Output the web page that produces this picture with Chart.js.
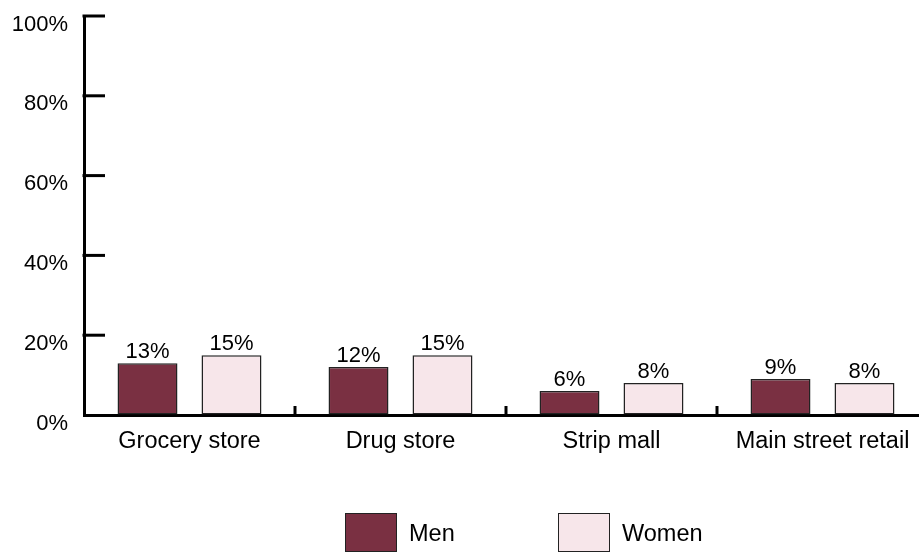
<!DOCTYPE html>
<html>
<head>
<meta charset="utf-8">
<script src="https://cdn.jsdelivr.net/npm/chart.js@4/dist/chart.umd.min.js"></script>
<style>
html,body{margin:0;padding:0;overflow:hidden;background:#fff;width:919px;height:555px;}
#wrap{position:relative;width:940px;height:555px;}
#legend{position:absolute;left:0;top:0;width:919px;height:555px;pointer-events:none;font-family:"Liberation Sans",Arial,sans-serif;font-size:23.5px;color:#000;}
.lbox{position:absolute;width:50px;height:37px;border:1.5px solid #222;}
.ltxt{position:absolute;line-height:40px;height:40px;}
</style>
</head>
<body>
<div id="wrap">
<canvas id="c" width="940" height="555"></canvas>
<div id="legend"></div>
</div>
<script>
const categories = ["Grocery store", "Drug store", "Strip mall", "Main street retail"];
const seriesNames = ["Men", "Women"];
const menValues = [13, 12, 6, 9];
const womenValues = [15, 15, 8, 8];
const yTicks = [0, 20, 40, 60, 80, 100];

const colors = ["rgb(122,48,66)", "rgb(247,230,234)"];
const FONT = '"Liberation Sans", Arial, sans-serif';

const tickPlugin = {
  id: 'inwardTicks',
  afterDatasetsDraw(chart) {
    const ctx = chart.ctx;
    const y = chart.scales.y, x = chart.scales.x;
    const area = chart.chartArea;
    ctx.save();
    ctx.strokeStyle = '#000';
    ctx.lineWidth = 3;
    yTicks.forEach(v => {
      if (v === 0) return;
      const py = y.getPixelForValue(v);
      ctx.beginPath();
      ctx.moveTo(area.left - 1.5, py);
      ctx.lineTo(area.left + 21, py);
      ctx.stroke();
    });
    const half = (x.getPixelForValue(1) - x.getPixelForValue(0)) / 2;
    categories.forEach((c, i) => {
      const px = x.getPixelForValue(i) + half;
      ctx.beginPath();
      ctx.moveTo(px, area.bottom);
      ctx.lineTo(px, area.bottom - 9);
      ctx.stroke();
    });
    ctx.fillStyle = '#000';
    ctx.font = '22px ' + FONT;
    ctx.textAlign = 'center';
    ctx.textBaseline = 'alphabetic';
    chart.data.datasets.forEach((ds, di) => {
      const meta = chart.getDatasetMeta(di);
      meta.data.forEach((bar, i) => {
        ctx.fillText(ds.data[i] + '%', bar.x, bar.y - 5);
      });
    });
    ctx.restore();
  }
};

const chart = new Chart(document.getElementById('c'), {
  type: 'bar',
  data: {
    labels: categories,
    datasets: [
      { label: seriesNames[0], data: menValues, backgroundColor: colors[0], borderColor: '#222', borderWidth: 1.5, borderSkipped: false, categoryPercentage: 0.796, barPercentage: 0.714 },
      { label: seriesNames[1], data: womenValues, backgroundColor: colors[1], borderColor: '#222', borderWidth: 1.5, borderSkipped: false, categoryPercentage: 0.796, barPercentage: 0.714 }
    ]
  },
  options: {
    responsive: false,
    animation: false,
    layout: { padding: { left: 0, right: 12, top: 16, bottom: 0 } },
    plugins: { legend: { display: false }, tooltip: { enabled: false } },
    scales: {
      x: {
        grid: { display: true, drawOnChartArea: false, drawTicks: false, color: 'rgba(0,0,0,0)' },
        border: { display: true, color: '#000', width: 3 },
        ticks: { color: '#000', font: { family: FONT, size: 23.5 }, padding: 12, maxRotation: 0, autoSkip: false },
        afterFit(s) { s.height = 140; s.paddingLeft = 0; s.paddingRight = 0; }
      },
      y: {
        min: 0, max: 100,
        afterBuildTicks(s) { s.ticks = yTicks.map(v => ({ value: v })); },
        grid: { display: true, drawOnChartArea: false, drawTicks: false, color: 'rgba(0,0,0,0)' },
        border: { display: true, color: '#000', width: 3 },
        ticks: { color: '#000', font: { family: FONT, size: 22 }, padding: 16, labelOffset: 8.5, callback: v => v + '%' },
        afterFit(s) { s.width = 84; s.paddingTop = 0; s.paddingBottom = 0; }
      }
    }
  },
  plugins: [tickPlugin]
});

const leg = document.getElementById('legend');
const legPos = [{ box: 345, txt: 409 }, { box: 558, txt: 622 }];
chart.data.datasets.forEach((ds, i) => {
  const b = document.createElement('div');
  b.className = 'lbox';
  b.style.left = legPos[i].box + 'px';
  b.style.top = '513px';
  b.style.background = ds.backgroundColor;
  leg.appendChild(b);
  const t = document.createElement('div');
  t.className = 'ltxt';
  t.style.left = legPos[i].txt + 'px';
  t.style.top = '513px';
  t.textContent = ds.label;
  leg.appendChild(t);
});
</script>
</body>
</html>
